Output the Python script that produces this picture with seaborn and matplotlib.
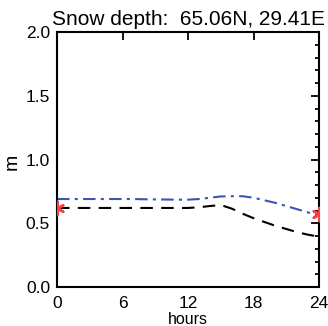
import numpy as np
import pandas as pd
import matplotlib
matplotlib.use("Agg")
import matplotlib.pyplot as plt
import seaborn as sns
from matplotlib.ticker import MultipleLocator

hours = list(range(25))
model_a = [0.69, 0.69, 0.69, 0.69, 0.69, 0.69, 0.69, 0.69, 0.688, 0.687, 0.686, 0.685, 0.685,
           0.69, 0.70, 0.71, 0.712, 0.712, 0.70, 0.68, 0.66, 0.635, 0.61, 0.585, 0.557]
model_b = [0.62, 0.62, 0.62, 0.62, 0.62, 0.62, 0.62, 0.62, 0.62, 0.62, 0.62, 0.62, 0.62,
           0.625, 0.635, 0.643, 0.615, 0.575, 0.54, 0.51, 0.48, 0.455, 0.43, 0.41, 0.395]
obs_hours = [0, 24]
obs_vals = [0.62, 0.573]
title = "Snow depth:  65.06N, 29.41E"

sns.set_theme(style="white")
plt.rcParams['font.family'] = ['Liberation Sans', 'DejaVu Sans']
plt.rcParams['text.color'] = 'black'
plt.rcParams['axes.labelcolor'] = 'black'

fig = plt.figure(figsize=(3.28, 3.26), dpi=100)
ax = fig.add_axes([57/328, 1-287/326, 262/328, 255/326])

df = pd.DataFrame({"h": hours, "a": model_a, "b": model_b})
sns.lineplot(data=df, x="h", y="b", ax=ax, color="black", lw=1.5,
             linestyle=(0, (6, 4)))
sns.lineplot(data=df, x="h", y="a", ax=ax, color="#3a55b4", lw=1.5,
             linestyle=(0, (6, 2.5, 1.5, 2.5)))
sns.scatterplot(x=obs_hours, y=obs_vals, ax=ax, marker=(6, 2, 0), s=90,
                color="#ff4040", linewidth=1.8, edgecolor="#ff4040", clip_on=True,
                zorder=5)

ax.set_xlim(0, 24)
ax.set_ylim(0, 2.0)
ax.xaxis.set_major_locator(MultipleLocator(6))
ax.yaxis.set_major_locator(MultipleLocator(0.5))
ax.yaxis.set_minor_locator(MultipleLocator(0.1))
ax.set_yticklabels([f"{v:.1f}" for v in ax.get_yticks()])
ax.tick_params(which="both", direction="in", top=True, right=True, colors="black",
               labelcolor="black", labelsize=12.5, width=1.3)
ax.tick_params(which="major", length=6, pad=5)
ax.tick_params(axis="x", which="major", pad=6.5)
ax.tick_params(which="minor", length=3)
for s in ax.spines.values():
    s.set_color("black")
    s.set_linewidth(1.5)
ax.set_xlabel("hours", fontsize=11.5, color="black")
ax.xaxis.set_label_coords(0.5, -0.097)
ax.set_ylabel("m", fontsize=14, va="center", color="black")
ax.yaxis.set_label_coords(-0.172, 0.49)
ax.set_title(title, fontsize=15, pad=5, color="black")
fig.savefig("out.png", dpi=100)
